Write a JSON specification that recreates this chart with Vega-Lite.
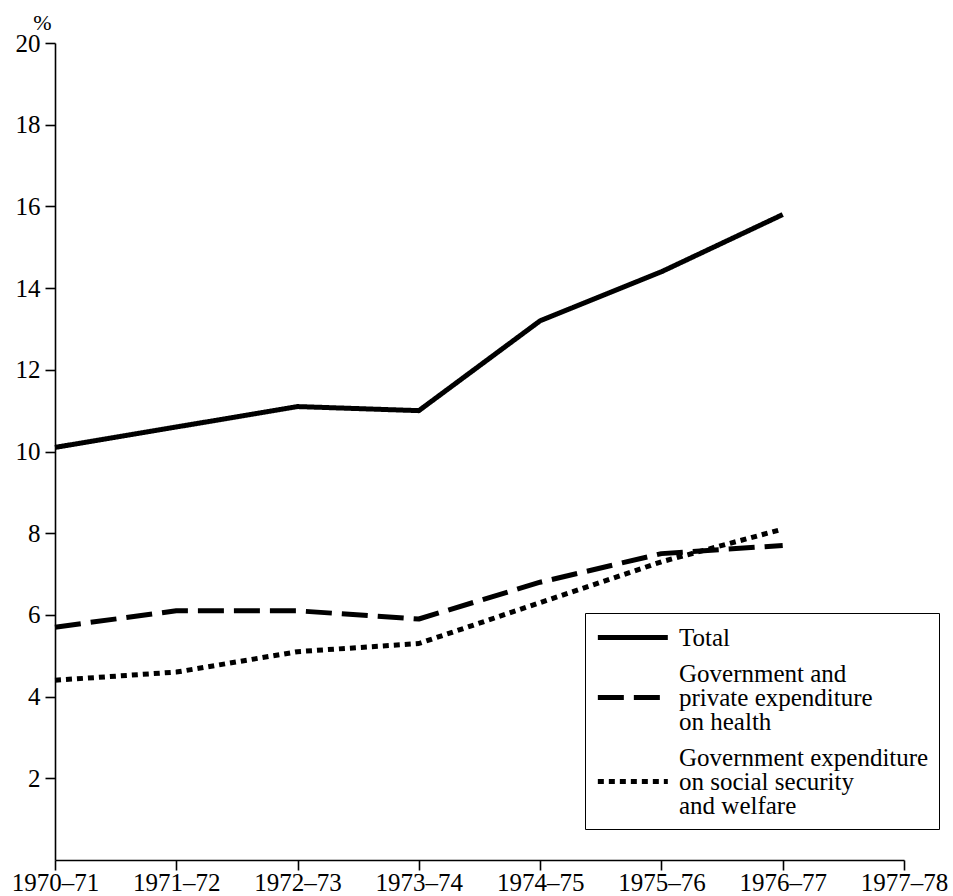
{
  "$schema": "https://vega.github.io/schema/vega-lite/v6.json",
  "width": 849,
  "height": 817,
  "autosize": {"type": "none"},
  "padding": {"left": 55, "top": 43, "right": 49, "bottom": 36},
  "background": "white",
  "config": {
    "view": {"stroke": null},
    "font": "Liberation Serif",
    "axis": {
      "domainColor": "black",
      "domainWidth": 1.6,
      "tickColor": "black",
      "tickWidth": 1.6,
      "labelColor": "black",
      "labelFont": "Liberation Serif",
      "labelFontSize": 25,
      "grid": false
    },
    "legend": {
      "orient": "none",
      "legendX": 530,
      "legendY": 570,
      "strokeColor": "black",
      "fillColor": "white",
      "padding": 10,
      "rowPadding": 10,
      "labelFont": "Liberation Serif",
      "labelFontSize": 25,
      "labelColor": "black",
      "labelOffset": 55,
      "labelLimit": 500,
      "labelBaseline": "middle",
      "symbolType": "M-1,0H5",
      "symbolSize": 544,
      "symbolStrokeWidth": 5,
      "symbolStrokeColor": "black",
      "symbolFillColor": "transparent"
    }
  },
  "data": {
    "values": [
      {"year": "1970–71", "series": "Total", "value": 10.1},
      {"year": "1971–72", "series": "Total", "value": 10.6},
      {"year": "1972–73", "series": "Total", "value": 11.1},
      {"year": "1973–74", "series": "Total", "value": 11.0},
      {"year": "1974–75", "series": "Total", "value": 13.2},
      {"year": "1975–76", "series": "Total", "value": 14.4},
      {"year": "1976–77", "series": "Total", "value": 15.8},
      {"year": "1970–71", "series": "Government and private expenditure on health", "value": 5.7},
      {"year": "1971–72", "series": "Government and private expenditure on health", "value": 6.1},
      {"year": "1972–73", "series": "Government and private expenditure on health", "value": 6.1},
      {"year": "1973–74", "series": "Government and private expenditure on health", "value": 5.9},
      {"year": "1974–75", "series": "Government and private expenditure on health", "value": 6.8},
      {"year": "1975–76", "series": "Government and private expenditure on health", "value": 7.5},
      {"year": "1976–77", "series": "Government and private expenditure on health", "value": 7.7},
      {"year": "1970–71", "series": "Government expenditure on social security and welfare", "value": 4.4},
      {"year": "1971–72", "series": "Government expenditure on social security and welfare", "value": 4.6},
      {"year": "1972–73", "series": "Government expenditure on social security and welfare", "value": 5.1},
      {"year": "1973–74", "series": "Government expenditure on social security and welfare", "value": 5.3},
      {"year": "1974–75", "series": "Government expenditure on social security and welfare", "value": 6.3},
      {"year": "1975–76", "series": "Government expenditure on social security and welfare", "value": 7.3},
      {"year": "1976–77", "series": "Government expenditure on social security and welfare", "value": 8.1}
    ]
  },
  "mark": {"type": "line", "color": "black", "strokeWidth": 5, "strokeCap": "butt", "strokeJoin": "round"},
  "encoding": {
    "x": {
      "field": "year",
      "type": "ordinal",
      "scale": {"type": "point", "padding": 0, "domain": ["1970–71", "1971–72", "1972–73", "1973–74", "1974–75", "1975–76", "1976–77", "1977–78"]},
      "axis": {"title": null, "labelAngle": 0, "tickSize": 10, "labelPadding": 0, "labelBaseline": "top", "labelFontSize": 25}
    },
    "y": {
      "field": "value",
      "type": "quantitative",
      "scale": {"domain": [0, 20], "nice": false, "zero": true},
      "axis": {
        "values": [2, 4, 6, 8, 10, 12, 14, 16, 18, 20],
        "tickSize": 10,
        "labelPadding": 5,
        "title": "%",
        "titleAngle": 0,
        "titleFont": "Liberation Serif",
        "titleFontSize": 22,
        "titleFontWeight": "normal",
        "titleColor": "black",
        "titleAlign": "center",
        "titleBaseline": "middle",
        "titleX": -13,
        "titleY": -21
      }
    },
    "strokeDash": {
      "field": "series",
      "type": "nominal",
      "scale": {
        "domain": ["Total", "Government and private expenditure on health", "Government expenditure on social security and welfare"],
        "range": [[1, 0], [26, 10], [6, 5]]
      },
      "legend": {
        "title": null,
        "labelExpr": "datum.label == 'Total' ? 'Total' : (indexof(datum.label, 'health') >= 0 ? ['Government and', 'private expenditure', 'on health'] : ['Government expenditure', 'on social security', '\u00a0\u00a0\u00a0\u00a0and welfare'])",
        "encode": {
          "labels": {
            "update": {
              "lineHeight": {"value": 24},
              "dy": {"signal": "datum.value == 'Total' ? 0 : -24"}
            }
          }
        }
      }
    }
  }
}
